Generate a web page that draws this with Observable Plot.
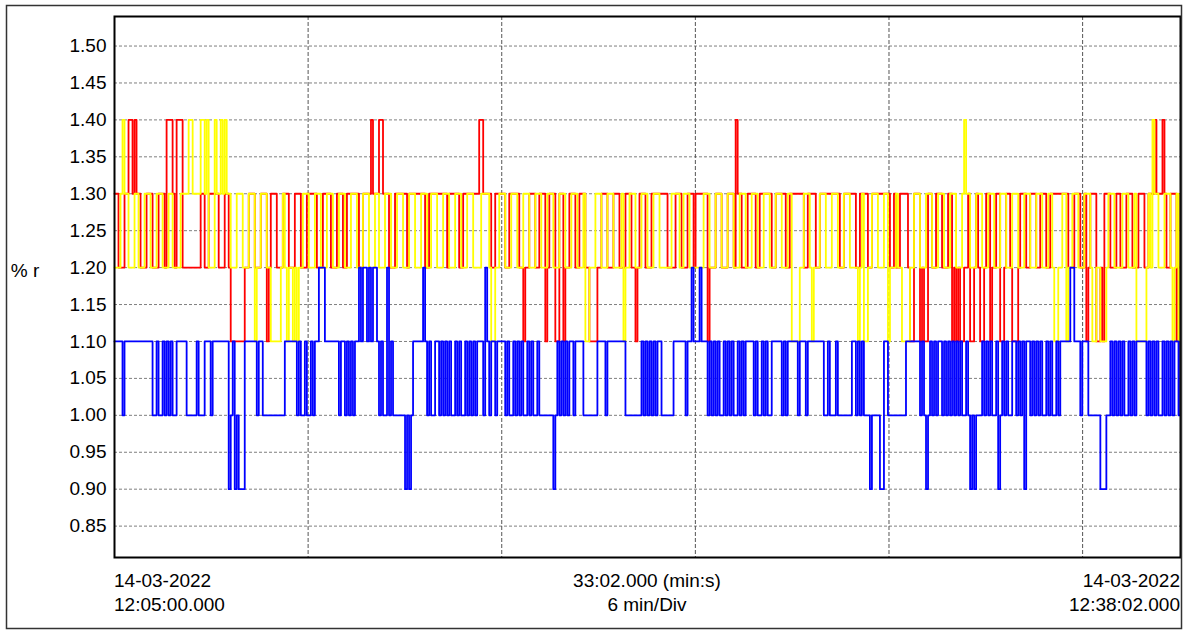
<!DOCTYPE html>
<html>
<head>
<meta charset="utf-8">
<script src="https://cdn.jsdelivr.net/npm/d3@7"></script>
<script src="https://cdn.jsdelivr.net/npm/@observablehq/plot@0.6"></script>
<style>
  html, body { margin: 0; padding: 0; background: #fff; }
  #chart { width: 1184px; height: 630px; }
  #chart svg { font-family: "Liberation Sans", Arial, sans-serif; }
</style>
</head>
<body>
<div id="chart"></div>
<script>
// Recording window and labels
const startLabel = ["14-03-2022", "12:05:00.000"];
const endLabel = ["14-03-2022", "12:38:02.000"];
const spanLabel = ["33:02.000 (min:s)", "6 min/Div"];
const yLabel = "% r";
const spanSeconds = 1982;   // 33:02
const divSeconds = 360;     // 6 min per division
const yTicks = [0.85, 0.90, 0.95, 1.00, 1.05, 1.10, 1.15, 1.20, 1.25, 1.30, 1.35, 1.40, 1.45, 1.50];

// Each character is one logged sample (levels in % r)
const levels = { "9": 0.9, "0": 1.0, "1": 1.1, "2": 1.2, "3": 1.3, "4": 1.4 };

const redTrace = [
  "3322233443 4332223332 2233324443 2444222222 2223322333",
  "3322233211 1111122333 2223331233 3222333222 3332223333",
  "3222333322 2333223333 3322333343 3344333222 3333332333",
  "3333322333 3333332333 3322333333 3344333322 3333322333",
  "3322122333 2233312333 1133122333 2233322111 1223332223",
  "3322233322 1233322233 3333332222 3332223332 3333331222",
  "3332223332 4332223333 2233333322 3333322333 3333223333",
  "2233333333 3322333333 2233332233 3333333223 2233332113",
  "3312113322 3332223312 1211223112 3211233122 3311233211",
  "1233322333 2233322333 3333332223 3322312333 1121333222",
  "3322233322 2333223334 3334322333 123"
];

const yellowTrace = [
  "2223433222 3322233322 2333222332 2223333443 3334434222",
  "4334343322 2333222333 1223332211 1112321221 2122333222",
  "3332223332 2233322233 3222333222 3322233322 2333222333",
  "2223332233 3222333222 3332223332 2223333211 2233322233",
  "3222333222 3332223332 2233322233 3222311222 3332223332",
  "2223122333 2223332223 3322222233 3322333222 2222333222",
  "3332223332 2233322233 3222333222 3332223311 1122333212",
  "2233322233 3222333222 2123112233 3222331222 3221111223",
  "3322233322 2333222333 2223433222 3332223332 2233322233",
  "3222333222 3332223321 1223312233 3222333211 2211123332",
  "2223332223 1111123243 3222333212 312"
];

const blueTrace = [
  "1111011111 1111111110 0100101010 0111110000 0100011101",
  "1111111901 9099911111 1011000000 0000011111 1010010010",
  "1122211111 1101101010 1121221212 2101002010 0000090901",
  "1111210100 1101010100 1010010101 0111021011 0111101001",
  "0101001010 0100000009 0101010110 1111000000 0111101111",
  "1111100000 0001010101 0110000001 1111101121 1121110101",
  "0100101010 0101011110 1001010011 1110101111 1011101111",
  "1111001000 1000000011 0101000900 0099110000 0000011111",
  "1101090101 0110101010 1010010909 0001010100 1901010011",
  "0101911010 1010010100 1011111221 1101110000 0099900101",
  "0101001010 1111101010 1001010101 101"
];

function decode(trace) {
  const chars = trace.join("").replace(/\s+/g, "").split("");
  const step = spanSeconds / (chars.length - 1);
  return chars.map((c, i) => ({ t: i * step, v: levels[c] }));
}

const red = decode(redTrace);
const yellow = decode(yellowTrace);
const blue = decode(blueTrace);

const traceStyle = { x: "t", y: "v", curve: "step-after", strokeWidth: 1.8 };

const chart = Plot.plot({
  width: 1184,
  height: 630,
  marginLeft: 114,
  marginRight: 4,
  marginTop: 16,
  marginBottom: 73,
  style: { background: "#fff", color: "#000", fontSize: "19px", fontFamily: "'Liberation Sans', Arial, sans-serif" },
  x: { domain: [0, spanSeconds], axis: null },
  y: { domain: [0.8075, 1.54], axis: null },
  marks: [
    Plot.ruleY(yTicks, { stroke: "#7f7f7f", strokeWidth: 1, strokeDasharray: "3,2" }),
    Plot.ruleX(d3.range(divSeconds, spanSeconds, divSeconds), { stroke: "#555", strokeWidth: 1, strokeDasharray: "4,2" }),
    Plot.line(red, { ...traceStyle, stroke: "#ff0000" }),
    Plot.line(yellow, { ...traceStyle, stroke: "#ffff00" }),
    Plot.line(blue, { ...traceStyle, stroke: "#0000ff" }),
    Plot.axisY(yTicks, { tickSize: 0, tickPadding: 8, tickFormat: d3.format(".2f"), fontSize: 19, label: null }),
    Plot.frame({ stroke: "#000", strokeWidth: 2 })
  ]
});

document.getElementById("chart").appendChild(chart);

// Outer border and annotation texts
const svg = d3.select(chart);
const xs = chart.scale("x");
svg.append("rect")
  .attr("x", 6.5).attr("y", 5.5).attr("width", 1175).attr("height", 623)
  .attr("fill", "none").attr("stroke", "#333").attr("stroke-width", 1.5);

const textStyle = (sel) => sel.attr("font-size", 19).attr("fill", "#000")
  .attr("font-family", "'Liberation Sans', Arial, sans-serif");

svg.append("text").call(textStyle).attr("x", 25).attr("y", 277).text(yLabel);

const rows = [587, 611];
const groups = [
  { lines: startLabel, x: xs.apply(0), anchor: "start" },
  { lines: spanLabel, x: xs.apply(spanSeconds / 2), anchor: "middle" },
  { lines: endLabel, x: xs.apply(spanSeconds), anchor: "end" }
];
for (const g of groups) {
  g.lines.forEach((s, i) => {
    svg.append("text").call(textStyle)
      .attr("x", g.x).attr("y", rows[i]).attr("text-anchor", g.anchor).text(s);
  });
}
</script>
</body>
</html>
